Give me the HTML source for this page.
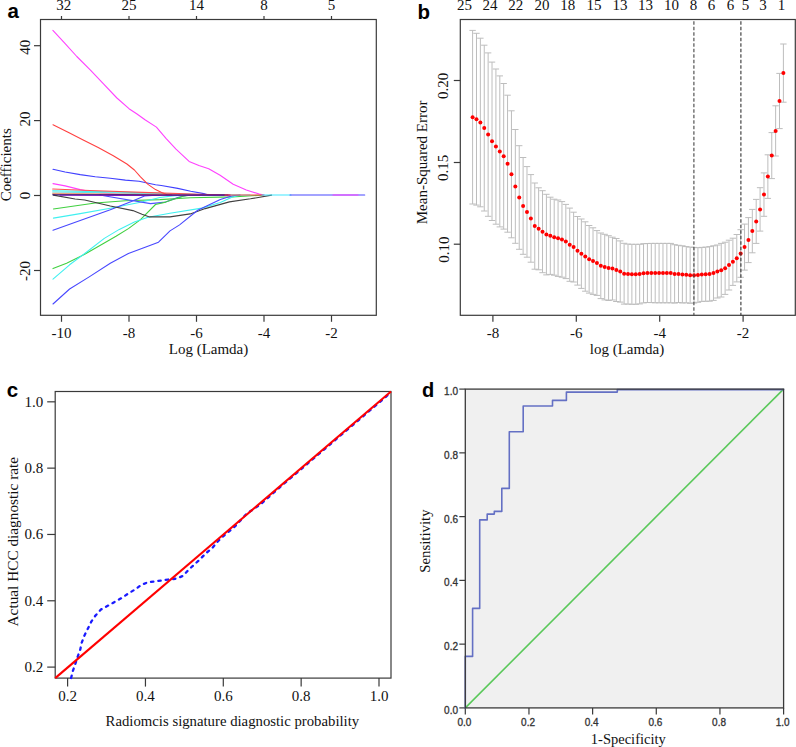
<!DOCTYPE html>
<html><head><meta charset="utf-8"><style>
html,body{margin:0;padding:0;background:#fff;}
svg{display:block;}
</style></head><body>
<svg width="796" height="747" viewBox="0 0 796 747">
<rect width="796" height="747" fill="#fff"/>
<text x="7.5" y="17.8" font-family='"Liberation Sans", sans-serif' font-size="20.5" text-anchor="start" font-weight="bold" fill="#000" >a</text>
<rect x="40.5" y="19.5" width="335.8" height="295.8" fill="#fff" stroke="#3a3a3a" stroke-width="1.2"/>
<line x1="61.5" y1="315.3" x2="61.5" y2="321.8" stroke="#3a3a3a" stroke-width="1.2" />
<text x="61.5" y="337.8" font-family='"Liberation Serif", serif' font-size="15" text-anchor="middle" font-weight="normal" fill="#111" >-10</text>
<line x1="61.5" y1="19.5" x2="61.5" y2="16.0" stroke="#3a3a3a" stroke-width="1.2" />
<text x="63.8" y="10.4" font-family='"Liberation Serif", serif' font-size="15" text-anchor="middle" font-weight="normal" fill="#111" >32</text>
<line x1="129.0" y1="315.3" x2="129.0" y2="321.8" stroke="#3a3a3a" stroke-width="1.2" />
<text x="129.0" y="337.8" font-family='"Liberation Serif", serif' font-size="15" text-anchor="middle" font-weight="normal" fill="#111" >-8</text>
<line x1="129.0" y1="19.5" x2="129.0" y2="16.0" stroke="#3a3a3a" stroke-width="1.2" />
<text x="129.0" y="10.4" font-family='"Liberation Serif", serif' font-size="15" text-anchor="middle" font-weight="normal" fill="#111" >25</text>
<line x1="196.5" y1="315.3" x2="196.5" y2="321.8" stroke="#3a3a3a" stroke-width="1.2" />
<text x="196.5" y="337.8" font-family='"Liberation Serif", serif' font-size="15" text-anchor="middle" font-weight="normal" fill="#111" >-6</text>
<line x1="196.5" y1="19.5" x2="196.5" y2="16.0" stroke="#3a3a3a" stroke-width="1.2" />
<text x="196.5" y="10.4" font-family='"Liberation Serif", serif' font-size="15" text-anchor="middle" font-weight="normal" fill="#111" >14</text>
<line x1="264.0" y1="315.3" x2="264.0" y2="321.8" stroke="#3a3a3a" stroke-width="1.2" />
<text x="264.0" y="337.8" font-family='"Liberation Serif", serif' font-size="15" text-anchor="middle" font-weight="normal" fill="#111" >-4</text>
<line x1="264.0" y1="19.5" x2="264.0" y2="16.0" stroke="#3a3a3a" stroke-width="1.2" />
<text x="264.0" y="10.4" font-family='"Liberation Serif", serif' font-size="15" text-anchor="middle" font-weight="normal" fill="#111" >8</text>
<line x1="331.5" y1="315.3" x2="331.5" y2="321.8" stroke="#3a3a3a" stroke-width="1.2" />
<text x="331.5" y="337.8" font-family='"Liberation Serif", serif' font-size="15" text-anchor="middle" font-weight="normal" fill="#111" >-2</text>
<line x1="331.5" y1="19.5" x2="331.5" y2="16.0" stroke="#3a3a3a" stroke-width="1.2" />
<text x="331.5" y="10.4" font-family='"Liberation Serif", serif' font-size="15" text-anchor="middle" font-weight="normal" fill="#111" >5</text>
<line x1="34.0" y1="45.7" x2="40.5" y2="45.7" stroke="#3a3a3a" stroke-width="1.2" />
<text x="29.6" y="47.300000000000004" font-family='"Liberation Serif", serif' font-size="15" text-anchor="middle" font-weight="normal" fill="#111" transform="rotate(-90 29.6 47.300000000000004)" >40</text>
<line x1="34.0" y1="120.6" x2="40.5" y2="120.6" stroke="#3a3a3a" stroke-width="1.2" />
<text x="29.6" y="119.1" font-family='"Liberation Serif", serif' font-size="15" text-anchor="middle" font-weight="normal" fill="#111" transform="rotate(-90 29.6 119.1)" >20</text>
<line x1="34.0" y1="195.5" x2="40.5" y2="195.5" stroke="#3a3a3a" stroke-width="1.2" />
<text x="29.6" y="195.5" font-family='"Liberation Serif", serif' font-size="15" text-anchor="middle" font-weight="normal" fill="#111" transform="rotate(-90 29.6 195.5)" >0</text>
<line x1="34.0" y1="270.5" x2="40.5" y2="270.5" stroke="#3a3a3a" stroke-width="1.2" />
<text x="29.6" y="271.0" font-family='"Liberation Serif", serif' font-size="15" text-anchor="middle" font-weight="normal" fill="#111" transform="rotate(-90 29.6 271.0)" >-20</text>
<text x="208.5" y="353.5" font-family='"Liberation Serif", serif' font-size="15" text-anchor="middle" font-weight="normal" fill="#111" >Log (Lamda)</text>
<text x="11.5" y="164.8" font-family='"Liberation Serif", serif' font-size="15" text-anchor="middle" font-weight="normal" fill="#111" transform="rotate(-90 11.5 164.8)" >Coefficients</text>
<polyline points="53.4,209.0 95.2,203.0 125.4,200.8 160.0,199.6 190.2,197.8 232.4,196.9 258.0,195.4 264.0,195.0" fill="none" stroke="#40d040" stroke-width="1.1" stroke-linejoin="round" stroke-linecap="round" />
<polyline points="53.4,218.1 80.2,213.6 110.3,208.3 140.5,202.3 160.0,197.5 175.0,195.6 190.0,195.0" fill="none" stroke="#40f0f0" stroke-width="1.1" stroke-linejoin="round" stroke-linecap="round" />
<polyline points="53.0,230.2 80.2,220.4 110.3,209.8 131.4,201.5 144.5,196.0 160.0,195.0" fill="none" stroke="#4848ff" stroke-width="1.1" stroke-linejoin="round" stroke-linecap="round" />
<polyline points="100.0,195.0 105.3,196.0 150.5,203.6 165.6,202.1 177.6,197.5 186.7,195.4 200.0,195.0" fill="none" stroke="#5050ff" stroke-width="1.1" stroke-linejoin="round" stroke-linecap="round" />
<polyline points="53.0,268.6 66.6,263.3 84.7,254.3 104.3,243.0 116.0,236.2 128.4,228.6 140.5,219.6 155.5,204.5 165.6,202.1 183.7,196.0 195.7,194.8 230.0,195.0" fill="none" stroke="#40d040" stroke-width="1.1" stroke-linejoin="round" stroke-linecap="round" />
<polyline points="53.0,279.1 69.6,264.8 87.7,251.3 104.3,238.4 119.3,229.4 134.4,221.9 148.0,217.3 170.0,213.3 201.8,208.1 220.3,202.5 232.4,197.0 240.0,195.2 250.0,195.0" fill="none" stroke="#40f0f0" stroke-width="1.1" stroke-linejoin="round" stroke-linecap="round" />
<polyline points="53.4,195.1 75.1,199.0 84.7,200.0 110.3,206.0 132.9,210.6 142.0,214.3 149.5,216.9 170.0,216.9 190.2,213.9 205.2,208.6 229.4,201.9 250.5,198.8 271.6,195.1" fill="none" stroke="#404040" stroke-width="1.1" stroke-linejoin="round" stroke-linecap="round" />
<polyline points="53.0,304.0 69.6,289.0 89.2,276.9 110.3,263.3 128.4,253.5 146.5,246.7 158.5,242.2 170.0,230.9 179.6,224.9 197.7,210.2 220.3,199.6 232.4,195.8 240.0,195.0" fill="none" stroke="#4848ff" stroke-width="1.1" stroke-linejoin="round" stroke-linecap="round" />
<polyline points="52.9,30.4 64.7,43.1 76.8,56.5 90.2,69.8 103.5,83.9 116.9,98.0 129.0,108.7 137.0,114.0 145.0,119.8 156.4,127.1 166.2,138.6 176.0,149.2 189.1,161.4 198.9,165.5 208.7,168.8 220.1,175.3 233.2,184.3 246.3,190.0 259.3,194.1 264.2,195.0" fill="none" stroke="#ff40ff" stroke-width="1.1" stroke-linejoin="round" stroke-linecap="round" />
<polyline points="53.0,169.3 65.1,172.0 80.2,174.6 95.2,176.8 110.3,178.3 125.4,180.1 139.0,181.3 155.5,184.7 161.3,185.5 177.7,188.4 190.7,191.2 203.8,193.6 207.0,194.6 215.0,195.0" fill="none" stroke="#4040ff" stroke-width="1.1" stroke-linejoin="round" stroke-linecap="round" />
<polyline points="53.0,183.6 65.1,185.9 80.2,189.6 87.7,191.1 98.2,192.6 120.0,194.6 140.0,195.0" fill="none" stroke="#ff40ff" stroke-width="1.1" stroke-linejoin="round" stroke-linecap="round" />
<polyline points="52.7,190.8 100.0,191.6 150.0,193.0 200.0,194.6 240.0,195.0" fill="none" stroke="#40f0f0" stroke-width="1.1" stroke-linejoin="round" stroke-linecap="round" />
<polyline points="52.7,192.0 100.0,192.6 160.0,194.0 230.0,195.0" fill="none" stroke="#60e8e8" stroke-width="1.1" stroke-linejoin="round" stroke-linecap="round" />
<polyline points="52.7,193.4 100.0,193.8 160.0,194.6 200.0,195.0" fill="none" stroke="#f0a080" stroke-width="1.1" stroke-linejoin="round" stroke-linecap="round" />
<polyline points="52.7,189.0 90.0,190.5 150.0,192.6 200.0,194.2 230.0,195.0" fill="none" stroke="#ff5050" stroke-width="1.1" stroke-linejoin="round" stroke-linecap="round" />
<polyline points="53.0,124.8 68.1,132.3 83.2,139.9 98.2,147.4 113.3,155.7 126.9,164.0 134.4,170.0 140.5,176.8 148.0,184.4 155.5,189.6 161.6,192.6 166.5,194.6 172.0,195.0" fill="none" stroke="#ff4040" stroke-width="1.1" stroke-linejoin="round" stroke-linecap="round" />
<polyline points="60.0,195.3 120.0,195.4 180.0,195.2 230.0,195.1" fill="none" stroke="#9020e0" stroke-width="1.1" stroke-linejoin="round" stroke-linecap="round" />
<polyline points="52.7,194.7 120.0,194.8 160.0,195.0 228.0,195.0" fill="none" stroke="#300060" stroke-width="1.1" stroke-linejoin="round" stroke-linecap="round" />
<polyline points="225.0,195.0 263.0,195.0" fill="none" stroke="#ff4040" stroke-width="1.1" stroke-linejoin="round" stroke-linecap="round" />
<polyline points="262.0,195.0 291.0,195.0" fill="none" stroke="#40e8ff" stroke-width="1.1" stroke-linejoin="round" stroke-linecap="round" />
<polyline points="290.0,195.0 364.7,195.0" fill="none" stroke="#4848ff" stroke-width="1.1" stroke-linejoin="round" stroke-linecap="round" />
<polyline points="333.0,195.0 358.0,195.0" fill="none" stroke="#ff40ff" stroke-width="1.1" stroke-linejoin="round" stroke-linecap="round" />
<text x="417.5" y="18.6" font-family='"Liberation Sans", sans-serif' font-size="20.5" text-anchor="start" font-weight="bold" fill="#000" >b</text>
<rect x="460.3" y="19.5" width="334.99999999999994" height="295.8" fill="#fff" stroke="#3a3a3a" stroke-width="1.2"/>
<line x1="492.9" y1="315.3" x2="492.9" y2="321.8" stroke="#3a3a3a" stroke-width="1.2" />
<text x="492.9" y="337.8" font-family='"Liberation Serif", serif' font-size="15" text-anchor="middle" font-weight="normal" fill="#111" >-8</text>
<line x1="576.3" y1="315.3" x2="576.3" y2="321.8" stroke="#3a3a3a" stroke-width="1.2" />
<text x="576.3" y="337.8" font-family='"Liberation Serif", serif' font-size="15" text-anchor="middle" font-weight="normal" fill="#111" >-6</text>
<line x1="659.7" y1="315.3" x2="659.7" y2="321.8" stroke="#3a3a3a" stroke-width="1.2" />
<text x="659.7" y="337.8" font-family='"Liberation Serif", serif' font-size="15" text-anchor="middle" font-weight="normal" fill="#111" >-4</text>
<line x1="743.1" y1="315.3" x2="743.1" y2="321.8" stroke="#3a3a3a" stroke-width="1.2" />
<text x="743.1" y="337.8" font-family='"Liberation Serif", serif' font-size="15" text-anchor="middle" font-weight="normal" fill="#111" >-2</text>
<line x1="453.8" y1="80.5" x2="460.3" y2="80.5" stroke="#3a3a3a" stroke-width="1.2" />
<text x="448.5" y="85.8" font-family='"Liberation Serif", serif' font-size="15" text-anchor="middle" font-weight="normal" fill="#111" transform="rotate(-90 448.5 85.8)" >0.20</text>
<line x1="453.8" y1="162.5" x2="460.3" y2="162.5" stroke="#3a3a3a" stroke-width="1.2" />
<text x="448.5" y="167.8" font-family='"Liberation Serif", serif' font-size="15" text-anchor="middle" font-weight="normal" fill="#111" transform="rotate(-90 448.5 167.8)" >0.15</text>
<line x1="453.8" y1="244.2" x2="460.3" y2="244.2" stroke="#3a3a3a" stroke-width="1.2" />
<text x="448.5" y="249.5" font-family='"Liberation Serif", serif' font-size="15" text-anchor="middle" font-weight="normal" fill="#111" transform="rotate(-90 448.5 249.5)" >0.10</text>
<text x="627" y="353.5" font-family='"Liberation Serif", serif' font-size="15" text-anchor="middle" font-weight="normal" fill="#111" >log (Lamda)</text>
<text x="427.5" y="162.4" font-family='"Liberation Serif", serif' font-size="15" text-anchor="middle" font-weight="normal" fill="#111" transform="rotate(-90 427.5 162.4)" >Mean-Squared Error</text>
<text x="464.4" y="10.4" font-family='"Liberation Serif", serif' font-size="15" text-anchor="middle" font-weight="normal" fill="#111" >25</text>
<text x="490.1" y="10.4" font-family='"Liberation Serif", serif' font-size="15" text-anchor="middle" font-weight="normal" fill="#111" >24</text>
<text x="515.7" y="10.4" font-family='"Liberation Serif", serif' font-size="15" text-anchor="middle" font-weight="normal" fill="#111" >22</text>
<text x="542" y="10.4" font-family='"Liberation Serif", serif' font-size="15" text-anchor="middle" font-weight="normal" fill="#111" >20</text>
<text x="567.8" y="10.4" font-family='"Liberation Serif", serif' font-size="15" text-anchor="middle" font-weight="normal" fill="#111" >18</text>
<text x="594" y="10.4" font-family='"Liberation Serif", serif' font-size="15" text-anchor="middle" font-weight="normal" fill="#111" >15</text>
<text x="619.9" y="10.4" font-family='"Liberation Serif", serif' font-size="15" text-anchor="middle" font-weight="normal" fill="#111" >13</text>
<text x="645.5" y="10.4" font-family='"Liberation Serif", serif' font-size="15" text-anchor="middle" font-weight="normal" fill="#111" >13</text>
<text x="671.4" y="10.4" font-family='"Liberation Serif", serif' font-size="15" text-anchor="middle" font-weight="normal" fill="#111" >10</text>
<text x="693.5" y="10.4" font-family='"Liberation Serif", serif' font-size="15" text-anchor="middle" font-weight="normal" fill="#111" >8</text>
<text x="711.6" y="10.4" font-family='"Liberation Serif", serif' font-size="15" text-anchor="middle" font-weight="normal" fill="#111" >6</text>
<text x="730.4" y="10.4" font-family='"Liberation Serif", serif' font-size="15" text-anchor="middle" font-weight="normal" fill="#111" >6</text>
<text x="745.5" y="10.4" font-family='"Liberation Serif", serif' font-size="15" text-anchor="middle" font-weight="normal" fill="#111" >5</text>
<text x="763.1" y="10.4" font-family='"Liberation Serif", serif' font-size="15" text-anchor="middle" font-weight="normal" fill="#111" >3</text>
<text x="781.4" y="10.4" font-family='"Liberation Serif", serif' font-size="15" text-anchor="middle" font-weight="normal" fill="#111" >1</text>
<path d="M472.60 30.40V204.00M469.40 30.40h6.4M469.40 204.00h6.4M476.49 33.30V205.10M473.29 33.30h6.4M473.29 205.10h6.4M480.37 38.20V206.80M477.17 38.20h6.4M477.17 206.80h6.4M484.25 45.20V211.00M481.06 45.20h6.4M481.06 211.00h6.4M488.14 52.90V216.30M484.94 52.90h6.4M484.94 216.30h6.4M492.03 62.10V220.50M488.83 62.10h6.4M488.83 220.50h6.4M495.91 69.00V224.20M492.71 69.00h6.4M492.71 224.20h6.4M499.80 75.90V226.90M496.60 75.90h6.4M496.60 226.90h6.4M503.68 83.50V229.10M500.48 83.50h6.4M500.48 229.10h6.4M507.56 95.20V232.20M504.37 95.20h6.4M504.37 232.20h6.4M511.45 110.80V237.80M508.25 110.80h6.4M508.25 237.80h6.4M515.34 129.50V243.30M512.13 129.50h6.4M512.13 243.30h6.4M519.22 145.70V249.30M516.02 145.70h6.4M516.02 249.30h6.4M523.11 157.50V254.30M519.90 157.50h6.4M519.90 254.30h6.4M526.99 166.60V257.20M523.79 166.60h6.4M523.79 257.20h6.4M530.88 174.60V262.20M527.67 174.60h6.4M527.67 262.20h6.4M534.76 183.00V269.20M531.56 183.00h6.4M531.56 269.20h6.4M538.64 187.80V269.80M535.44 187.80h6.4M535.44 269.80h6.4M542.53 190.70V272.70M539.33 190.70h6.4M539.33 272.70h6.4M546.41 194.30V274.90M543.21 194.30h6.4M543.21 274.90h6.4M550.30 197.20V274.40M547.10 197.20h6.4M547.10 274.40h6.4M554.19 199.20V275.20M550.99 199.20h6.4M550.99 275.20h6.4M558.07 200.00V276.40M554.87 200.00h6.4M554.87 276.40h6.4M561.96 201.60V277.20M558.75 201.60h6.4M558.75 277.20h6.4M565.84 204.40V278.60M562.64 204.40h6.4M562.64 278.60h6.4M569.73 208.10V281.30M566.52 208.10h6.4M566.52 281.30h6.4M573.61 212.20V282.00M570.41 212.20h6.4M570.41 282.00h6.4M577.50 216.50V285.10M574.29 216.50h6.4M574.29 285.10h6.4M581.38 219.00V288.40M578.18 219.00h6.4M578.18 288.40h6.4M585.26 221.80V291.20M582.06 221.80h6.4M582.06 291.20h6.4M589.15 225.50V293.10M585.95 225.50h6.4M585.95 293.10h6.4M593.03 227.80V294.40M589.83 227.80h6.4M589.83 294.40h6.4M596.92 230.60V295.40M593.72 230.60h6.4M593.72 295.40h6.4M600.81 233.00V298.60M597.61 233.00h6.4M597.61 298.60h6.4M604.69 234.30V299.90M601.49 234.30h6.4M601.49 299.90h6.4M608.58 235.70V300.50M605.38 235.70h6.4M605.38 300.50h6.4M612.46 237.20V300.00M609.26 237.20h6.4M609.26 300.00h6.4M616.35 238.50V301.50M613.14 238.50h6.4M613.14 301.50h6.4M620.23 240.90V302.10M617.03 240.90h6.4M617.03 302.10h6.4M624.12 243.30V304.10M620.91 243.30h6.4M620.91 304.10h6.4M628.00 244.10V304.10M624.80 244.10h6.4M624.80 304.10h6.4M631.88 244.30V304.30M628.68 244.30h6.4M628.68 304.30h6.4M635.77 244.30V304.30M632.57 244.30h6.4M632.57 304.30h6.4M639.65 244.30V303.90M636.45 244.30h6.4M636.45 303.90h6.4M643.54 243.70V302.90M640.34 243.70h6.4M640.34 302.90h6.4M647.42 243.50V302.50M644.22 243.50h6.4M644.22 302.50h6.4M651.31 243.40V302.60M648.11 243.40h6.4M648.11 302.60h6.4M655.20 243.40V302.80M652.00 243.40h6.4M652.00 302.80h6.4M659.08 243.40V302.80M655.88 243.40h6.4M655.88 302.80h6.4M662.97 243.40V302.80M659.76 243.40h6.4M659.76 302.80h6.4M666.85 243.40V302.80M663.65 243.40h6.4M663.65 302.80h6.4M670.74 243.40V302.80M667.53 243.40h6.4M667.53 302.80h6.4M674.62 244.70V303.10M671.42 244.70h6.4M671.42 303.10h6.4M678.50 245.30V302.50M675.30 245.30h6.4M675.30 302.50h6.4M682.39 245.80V303.00M679.19 245.80h6.4M679.19 303.00h6.4M686.27 246.60V302.80M683.07 246.60h6.4M683.07 302.80h6.4M690.16 247.10V303.30M686.96 247.10h6.4M686.96 303.30h6.4M694.05 247.40V303.00M690.85 247.40h6.4M690.85 303.00h6.4M697.93 247.70V302.30M694.73 247.70h6.4M694.73 302.30h6.4M701.82 247.40V301.40M698.62 247.40h6.4M698.62 301.40h6.4M705.70 247.10V301.30M702.50 247.10h6.4M702.50 301.30h6.4M709.59 246.60V301.20M706.38 246.60h6.4M706.38 301.20h6.4M713.47 245.80V300.40M710.27 245.80h6.4M710.27 300.40h6.4M717.36 245.00V298.00M714.15 245.00h6.4M714.15 298.00h6.4M721.24 243.40V297.00M718.04 243.40h6.4M718.04 297.00h6.4M725.12 242.20V294.40M721.92 242.20h6.4M721.92 294.40h6.4M729.01 240.20V290.00M725.81 240.20h6.4M725.81 290.00h6.4M732.89 238.20V285.40M729.69 238.20h6.4M729.69 285.40h6.4M736.78 234.50V281.90M733.58 234.50h6.4M733.58 281.90h6.4M740.66 229.70V277.30M737.46 229.70h6.4M737.46 277.30h6.4M744.55 224.10V270.10M741.35 224.10h6.4M741.35 270.10h6.4M748.43 217.60V262.60M745.23 217.60h6.4M745.23 262.60h6.4M752.32 209.40V252.80M749.12 209.40h6.4M749.12 252.80h6.4M756.20 199.40V243.40M753.00 199.40h6.4M753.00 243.40h6.4M760.09 187.70V231.10M756.89 187.70h6.4M756.89 231.10h6.4M763.98 172.90V216.30M760.77 172.90h6.4M760.77 216.30h6.4M767.86 154.80V198.40M764.66 154.80h6.4M764.66 198.40h6.4M771.75 132.60V178.60M768.54 132.60h6.4M768.54 178.60h6.4M775.63 105.80V156.00M772.43 105.80h6.4M772.43 156.00h6.4M779.51 73.40V128.60M776.31 73.40h6.4M776.31 128.60h6.4M783.40 44.00V102.20M780.20 44.00h6.4M780.20 102.20h6.4" stroke="#bdbdbd" stroke-width="1" fill="none"/>
<circle cx="472.60" cy="117.20" r="2.0" fill="#ff0000"/>
<circle cx="476.49" cy="119.20" r="2.0" fill="#ff0000"/>
<circle cx="480.37" cy="122.50" r="2.0" fill="#ff0000"/>
<circle cx="484.25" cy="128.10" r="2.0" fill="#ff0000"/>
<circle cx="488.14" cy="134.60" r="2.0" fill="#ff0000"/>
<circle cx="492.03" cy="141.30" r="2.0" fill="#ff0000"/>
<circle cx="495.91" cy="146.60" r="2.0" fill="#ff0000"/>
<circle cx="499.80" cy="151.40" r="2.0" fill="#ff0000"/>
<circle cx="503.68" cy="156.30" r="2.0" fill="#ff0000"/>
<circle cx="507.56" cy="163.70" r="2.0" fill="#ff0000"/>
<circle cx="511.45" cy="174.30" r="2.0" fill="#ff0000"/>
<circle cx="515.34" cy="186.40" r="2.0" fill="#ff0000"/>
<circle cx="519.22" cy="197.50" r="2.0" fill="#ff0000"/>
<circle cx="523.11" cy="205.90" r="2.0" fill="#ff0000"/>
<circle cx="526.99" cy="211.90" r="2.0" fill="#ff0000"/>
<circle cx="530.88" cy="218.40" r="2.0" fill="#ff0000"/>
<circle cx="534.76" cy="226.10" r="2.0" fill="#ff0000"/>
<circle cx="538.64" cy="228.80" r="2.0" fill="#ff0000"/>
<circle cx="542.53" cy="231.70" r="2.0" fill="#ff0000"/>
<circle cx="546.41" cy="234.60" r="2.0" fill="#ff0000"/>
<circle cx="550.30" cy="235.80" r="2.0" fill="#ff0000"/>
<circle cx="554.19" cy="237.20" r="2.0" fill="#ff0000"/>
<circle cx="558.07" cy="238.20" r="2.0" fill="#ff0000"/>
<circle cx="561.96" cy="239.40" r="2.0" fill="#ff0000"/>
<circle cx="565.84" cy="241.50" r="2.0" fill="#ff0000"/>
<circle cx="569.73" cy="244.70" r="2.0" fill="#ff0000"/>
<circle cx="573.61" cy="247.10" r="2.0" fill="#ff0000"/>
<circle cx="577.50" cy="250.80" r="2.0" fill="#ff0000"/>
<circle cx="581.38" cy="253.70" r="2.0" fill="#ff0000"/>
<circle cx="585.26" cy="256.50" r="2.0" fill="#ff0000"/>
<circle cx="589.15" cy="259.30" r="2.0" fill="#ff0000"/>
<circle cx="593.03" cy="261.10" r="2.0" fill="#ff0000"/>
<circle cx="596.92" cy="263.00" r="2.0" fill="#ff0000"/>
<circle cx="600.81" cy="265.80" r="2.0" fill="#ff0000"/>
<circle cx="604.69" cy="267.10" r="2.0" fill="#ff0000"/>
<circle cx="608.58" cy="268.10" r="2.0" fill="#ff0000"/>
<circle cx="612.46" cy="268.60" r="2.0" fill="#ff0000"/>
<circle cx="616.35" cy="270.00" r="2.0" fill="#ff0000"/>
<circle cx="620.23" cy="271.50" r="2.0" fill="#ff0000"/>
<circle cx="624.12" cy="273.70" r="2.0" fill="#ff0000"/>
<circle cx="628.00" cy="274.10" r="2.0" fill="#ff0000"/>
<circle cx="631.88" cy="274.30" r="2.0" fill="#ff0000"/>
<circle cx="635.77" cy="274.30" r="2.0" fill="#ff0000"/>
<circle cx="639.65" cy="274.10" r="2.0" fill="#ff0000"/>
<circle cx="643.54" cy="273.30" r="2.0" fill="#ff0000"/>
<circle cx="647.42" cy="273.00" r="2.0" fill="#ff0000"/>
<circle cx="651.31" cy="273.00" r="2.0" fill="#ff0000"/>
<circle cx="655.20" cy="273.10" r="2.0" fill="#ff0000"/>
<circle cx="659.08" cy="273.10" r="2.0" fill="#ff0000"/>
<circle cx="662.97" cy="273.10" r="2.0" fill="#ff0000"/>
<circle cx="666.85" cy="273.10" r="2.0" fill="#ff0000"/>
<circle cx="670.74" cy="273.10" r="2.0" fill="#ff0000"/>
<circle cx="674.62" cy="273.90" r="2.0" fill="#ff0000"/>
<circle cx="678.50" cy="273.90" r="2.0" fill="#ff0000"/>
<circle cx="682.39" cy="274.40" r="2.0" fill="#ff0000"/>
<circle cx="686.27" cy="274.70" r="2.0" fill="#ff0000"/>
<circle cx="690.16" cy="275.20" r="2.0" fill="#ff0000"/>
<circle cx="694.05" cy="275.20" r="2.0" fill="#ff0000"/>
<circle cx="697.93" cy="275.00" r="2.0" fill="#ff0000"/>
<circle cx="701.82" cy="274.40" r="2.0" fill="#ff0000"/>
<circle cx="705.70" cy="274.20" r="2.0" fill="#ff0000"/>
<circle cx="709.59" cy="273.90" r="2.0" fill="#ff0000"/>
<circle cx="713.47" cy="273.10" r="2.0" fill="#ff0000"/>
<circle cx="717.36" cy="271.50" r="2.0" fill="#ff0000"/>
<circle cx="721.24" cy="270.20" r="2.0" fill="#ff0000"/>
<circle cx="725.12" cy="268.30" r="2.0" fill="#ff0000"/>
<circle cx="729.01" cy="265.10" r="2.0" fill="#ff0000"/>
<circle cx="732.89" cy="261.80" r="2.0" fill="#ff0000"/>
<circle cx="736.78" cy="258.20" r="2.0" fill="#ff0000"/>
<circle cx="740.66" cy="253.50" r="2.0" fill="#ff0000"/>
<circle cx="744.55" cy="247.10" r="2.0" fill="#ff0000"/>
<circle cx="748.43" cy="240.10" r="2.0" fill="#ff0000"/>
<circle cx="752.32" cy="231.10" r="2.0" fill="#ff0000"/>
<circle cx="756.20" cy="221.40" r="2.0" fill="#ff0000"/>
<circle cx="760.09" cy="209.40" r="2.0" fill="#ff0000"/>
<circle cx="763.98" cy="194.60" r="2.0" fill="#ff0000"/>
<circle cx="767.86" cy="176.60" r="2.0" fill="#ff0000"/>
<circle cx="771.75" cy="155.60" r="2.0" fill="#ff0000"/>
<circle cx="775.63" cy="130.90" r="2.0" fill="#ff0000"/>
<circle cx="779.51" cy="101.00" r="2.0" fill="#ff0000"/>
<circle cx="783.40" cy="73.10" r="2.0" fill="#ff0000"/>
<line x1="693.9" y1="21.2" x2="693.9" y2="315.3" stroke="#444" stroke-width="1.1" stroke-dasharray="3.5 2"/>
<line x1="740.9" y1="21.2" x2="740.9" y2="315.3" stroke="#333" stroke-width="1.1" stroke-dasharray="3.5 2"/>
<text x="6.8" y="397" font-family='"Liberation Sans", sans-serif' font-size="20.5" text-anchor="start" font-weight="bold" fill="#000" >c</text>
<rect x="55.2" y="391.5" width="335.8" height="286.6" fill="#fff" stroke="#3a3a3a" stroke-width="1.2"/>
<line x1="67.6" y1="678.1" x2="67.6" y2="686.6" stroke="#3a3a3a" stroke-width="1.2" />
<text x="67.6" y="700.5" font-family='"Liberation Serif", serif' font-size="15" text-anchor="middle" font-weight="normal" fill="#111" >0.2</text>
<line x1="145.45" y1="678.1" x2="145.45" y2="686.6" stroke="#3a3a3a" stroke-width="1.2" />
<text x="145.45" y="700.5" font-family='"Liberation Serif", serif' font-size="15" text-anchor="middle" font-weight="normal" fill="#111" >0.4</text>
<line x1="223.29999999999998" y1="678.1" x2="223.29999999999998" y2="686.6" stroke="#3a3a3a" stroke-width="1.2" />
<text x="223.29999999999998" y="700.5" font-family='"Liberation Serif", serif' font-size="15" text-anchor="middle" font-weight="normal" fill="#111" >0.6</text>
<line x1="301.15" y1="678.1" x2="301.15" y2="686.6" stroke="#3a3a3a" stroke-width="1.2" />
<text x="301.15" y="700.5" font-family='"Liberation Serif", serif' font-size="15" text-anchor="middle" font-weight="normal" fill="#111" >0.8</text>
<line x1="379.0" y1="678.1" x2="379.0" y2="686.6" stroke="#3a3a3a" stroke-width="1.2" />
<text x="379.0" y="700.5" font-family='"Liberation Serif", serif' font-size="15" text-anchor="middle" font-weight="normal" fill="#111" >1.0</text>
<line x1="47.2" y1="667.1" x2="55.2" y2="667.1" stroke="#3a3a3a" stroke-width="1.2" />
<text x="33.8" y="672.1" font-family='"Liberation Serif", serif' font-size="15" text-anchor="middle" font-weight="normal" fill="#111" >0.2</text>
<line x1="47.2" y1="600.78" x2="55.2" y2="600.78" stroke="#3a3a3a" stroke-width="1.2" />
<text x="33.8" y="605.78" font-family='"Liberation Serif", serif' font-size="15" text-anchor="middle" font-weight="normal" fill="#111" >0.4</text>
<line x1="47.2" y1="534.46" x2="55.2" y2="534.46" stroke="#3a3a3a" stroke-width="1.2" />
<text x="33.8" y="539.46" font-family='"Liberation Serif", serif' font-size="15" text-anchor="middle" font-weight="normal" fill="#111" >0.6</text>
<line x1="47.2" y1="468.14000000000004" x2="55.2" y2="468.14000000000004" stroke="#3a3a3a" stroke-width="1.2" />
<text x="33.8" y="473.14000000000004" font-family='"Liberation Serif", serif' font-size="15" text-anchor="middle" font-weight="normal" fill="#111" >0.8</text>
<line x1="47.2" y1="401.82000000000005" x2="55.2" y2="401.82000000000005" stroke="#3a3a3a" stroke-width="1.2" />
<text x="33.8" y="406.82000000000005" font-family='"Liberation Serif", serif' font-size="15" text-anchor="middle" font-weight="normal" fill="#111" >1.0</text>
<text x="232.4" y="725.7" font-family='"Liberation Serif", serif' font-size="14.75" text-anchor="middle" font-weight="normal" fill="#111" >Radiomcis signature diagnostic probability</text>
<text x="18.5" y="541.7" font-family='"Liberation Serif", serif' font-size="15.3" text-anchor="middle" font-weight="normal" fill="#111" transform="rotate(-90 18.5 541.7)" >Actual HCC diagnostic rate</text>
<polyline points="71.1,678.0 72.7,671.4 75.3,663.9 77.7,656.6 80.3,649.4 81.6,643.0 84.3,635.8 87.8,628.8 91.3,621.6 95.5,615.5 100.9,609.5 109.0,605.1 115.1,601.7 121.6,598.0 128.2,593.6 135.4,589.2 141.6,584.7 148.4,582.1 155.5,581.3 162.0,580.4 168.9,579.4 176.0,578.7 183.0,575.9 188.3,570.1 194.3,564.5 199.5,559.8 205.9,553.3 212.1,548.2 217.6,541.7 222.6,536.7 228.7,531.7 235.2,526.1 240.7,520.1 246.8,513.6 260.3,504.5 280.0,487.1 300.0,470.1 320.0,453.0 340.0,435.9 360.0,418.9 380.0,401.8 391.0,392.4" fill="none" stroke="#1a1aff" stroke-width="2.3" stroke-linejoin="round" stroke-linecap="round" stroke-dasharray="2.4 5" stroke-linecap="butt"/>
<line x1="55.2" y1="678.1" x2="391.0" y2="391.5" stroke="#ff0000" stroke-width="2.1" />
<text x="422" y="397" font-family='"Liberation Sans", sans-serif' font-size="20" text-anchor="start" font-weight="bold" fill="#000" >d</text>
<rect x="465.3" y="389.1" width="318.3" height="318.79999999999995" fill="#f0f0f0"/>
<line x1="465.3" y1="707.9" x2="465.3" y2="714.4" stroke="#3a3a3a" stroke-width="1.2" />
<text x="464.40000000000003" y="725.5" font-family='"Liberation Sans", sans-serif' font-size="10" text-anchor="middle" font-weight="normal" fill="#333" stroke="#333" stroke-width="0.3">0.0</text>
<line x1="459.3" y1="707.9" x2="465.3" y2="707.9" stroke="#3a3a3a" stroke-width="1.2" />
<text x="458" y="714.0" font-family='"Liberation Sans", sans-serif' font-size="10" text-anchor="end" font-weight="normal" fill="#333" stroke="#333" stroke-width="0.3">0.0</text>
<line x1="528.96" y1="707.9" x2="528.96" y2="714.4" stroke="#3a3a3a" stroke-width="1.2" />
<text x="528.0600000000001" y="725.5" font-family='"Liberation Sans", sans-serif' font-size="10" text-anchor="middle" font-weight="normal" fill="#333" stroke="#333" stroke-width="0.3">0.2</text>
<line x1="459.3" y1="644.14" x2="465.3" y2="644.14" stroke="#3a3a3a" stroke-width="1.2" />
<text x="458" y="650.24" font-family='"Liberation Sans", sans-serif' font-size="10" text-anchor="end" font-weight="normal" fill="#333" stroke="#333" stroke-width="0.3">0.2</text>
<line x1="592.62" y1="707.9" x2="592.62" y2="714.4" stroke="#3a3a3a" stroke-width="1.2" />
<text x="591.72" y="725.5" font-family='"Liberation Sans", sans-serif' font-size="10" text-anchor="middle" font-weight="normal" fill="#333" stroke="#333" stroke-width="0.3">0.4</text>
<line x1="459.3" y1="580.38" x2="465.3" y2="580.38" stroke="#3a3a3a" stroke-width="1.2" />
<text x="458" y="586.48" font-family='"Liberation Sans", sans-serif' font-size="10" text-anchor="end" font-weight="normal" fill="#333" stroke="#333" stroke-width="0.3">0.4</text>
<line x1="656.28" y1="707.9" x2="656.28" y2="714.4" stroke="#3a3a3a" stroke-width="1.2" />
<text x="655.38" y="725.5" font-family='"Liberation Sans", sans-serif' font-size="10" text-anchor="middle" font-weight="normal" fill="#333" stroke="#333" stroke-width="0.3">0.6</text>
<line x1="459.3" y1="516.62" x2="465.3" y2="516.62" stroke="#3a3a3a" stroke-width="1.2" />
<text x="458" y="522.72" font-family='"Liberation Sans", sans-serif' font-size="10" text-anchor="end" font-weight="normal" fill="#333" stroke="#333" stroke-width="0.3">0.6</text>
<line x1="719.94" y1="707.9" x2="719.94" y2="714.4" stroke="#3a3a3a" stroke-width="1.2" />
<text x="719.0400000000001" y="725.5" font-family='"Liberation Sans", sans-serif' font-size="10" text-anchor="middle" font-weight="normal" fill="#333" stroke="#333" stroke-width="0.3">0.8</text>
<line x1="459.3" y1="452.86" x2="465.3" y2="452.86" stroke="#3a3a3a" stroke-width="1.2" />
<text x="458" y="458.96000000000004" font-family='"Liberation Sans", sans-serif' font-size="10" text-anchor="end" font-weight="normal" fill="#333" stroke="#333" stroke-width="0.3">0.8</text>
<line x1="783.6" y1="707.9" x2="783.6" y2="714.4" stroke="#3a3a3a" stroke-width="1.2" />
<text x="782.7" y="725.5" font-family='"Liberation Sans", sans-serif' font-size="10" text-anchor="middle" font-weight="normal" fill="#333" stroke="#333" stroke-width="0.3">1.0</text>
<line x1="459.3" y1="389.1" x2="465.3" y2="389.1" stroke="#3a3a3a" stroke-width="1.2" />
<text x="458" y="395.20000000000005" font-family='"Liberation Sans", sans-serif' font-size="10" text-anchor="end" font-weight="normal" fill="#333" stroke="#333" stroke-width="0.3">1.0</text>
<text x="628.3" y="744" font-family='"Liberation Serif", serif' font-size="14.5" text-anchor="middle" font-weight="normal" fill="#111" >1-Specificity</text>
<text x="430.5" y="541.1" font-family='"Liberation Serif", serif' font-size="14.8" text-anchor="middle" font-weight="normal" fill="#111" transform="rotate(-90 430.5 541.1)" >Sensitivity</text>
<line x1="465.3" y1="707.9" x2="783.6" y2="389.1" stroke="#5ac85a" stroke-width="1.6" />
<polyline points="465.3,708.0 465.3,656.4 472.6,656.4 472.6,608.4 479.7,608.4 479.7,519.9 487.2,519.9 487.2,514.1 494.3,514.1 494.3,511.4 501.8,511.4 501.8,488.4 509.3,488.4 509.3,431.7 523.2,431.7 523.2,406.0 552.5,406.0 552.5,400.4 566.4,400.4 566.4,392.1 617.3,392.1 617.3,389.6 783.6,389.6" fill="none" stroke="#6470c4" stroke-width="1.6" stroke-linejoin="round" stroke-linecap="round" stroke-linecap="butt" stroke-linejoin="miter"/>
<rect x="465.3" y="389.1" width="318.3" height="318.79999999999995" fill="none" stroke="#3a3a3a" stroke-width="1.3"/>
</svg>
</body></html>
